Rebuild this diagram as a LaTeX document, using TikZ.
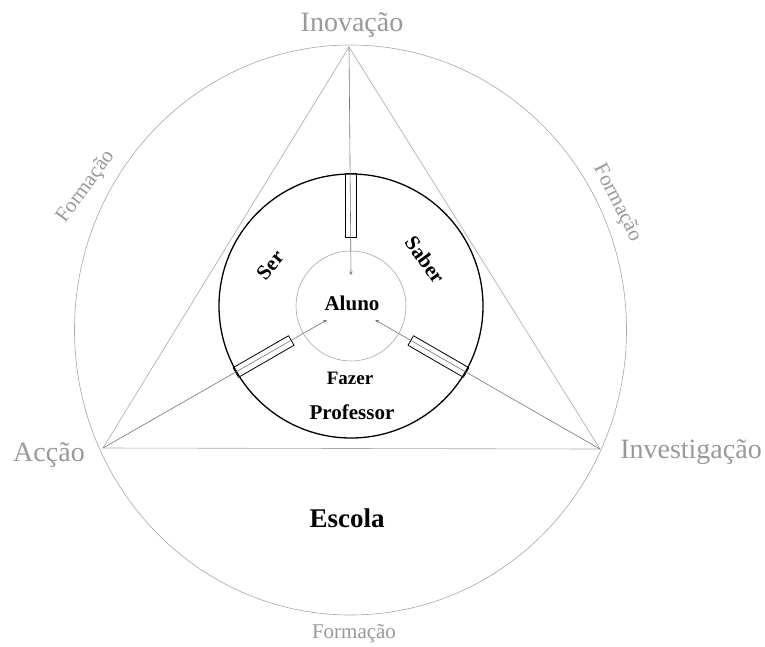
\documentclass[tikz,border=0pt]{standalone}
\usepackage{fontspec}
\setmainfont{Liberation Serif}
\begin{document}
\begin{tikzpicture}[x=1pt, y=1pt, >=stealth, line join=round, line cap=round,
		linha/.style={gray!70, line width=0.6pt},
		raio/.style={gray!90!black, line width=0.6pt},
		ranhura/.style={draw, line width=0.8pt, minimum width=64pt, minimum height=11pt, inner sep=0pt},
		rotulo/.style={text=gray!80, inner sep=0pt, font=\fontsize{28}{31}\selectfont},
		formacao/.style={text=gray!80, inner sep=0pt, font=\fontsize{21}{24}\selectfont},
		texto/.style={inner sep=0pt, font=\fontsize{21}{24}\selectfont\bfseries}]
	\useasboundingbox (0,0) rectangle (765,-646);
	% 1. Círculo exterior (Escola) e triângulo
	\coordinate (O) at (350.5,-330);
	\coordinate (C) at (351,-306);
	\coordinate (Ino) at (349,-47);
	\coordinate (Acc) at (103,-448);
	\coordinate (Inv) at (600,-449);
	\draw[linha] (O) ellipse [x radius=276, y radius=285];
	\draw[linha] (Ino) -- (Acc) -- (Inv) -- cycle;
	
	% 2. Círculos do Professor e do Aluno
	\draw[line width=1.3pt] (C) circle [radius=132];
	\draw[linha] (C) circle [radius=55];
	
	% 3. Ranhuras e setas dos vértices para o Aluno
	\node[ranhura, rotate=90] (rI) at ([shift={(90:101)}]C) {};
	\node[ranhura, rotate=210] (rA) at ([shift={(210:101)}]C) {};
	\node[ranhura, rotate=330] (rN) at ([shift={(330:101)}]C) {};
	\coordinate (tI) at ([shift={(90:31)}]C);
	\coordinate (tA) at ([shift={(210:28)}]C);
	\coordinate (tN) at ([shift={(330:28)}]C);
	\draw[raio, ->] (Ino) -- (tI);
	\draw[raio, ->] (Acc) -- (tA);
	\draw[raio, ->] (Inv) -- (tN);
	
	% 4. Textos exteriores
	\node[rotulo] (inovacao) at (352,-25) {Inovação};
	\node[rotulo] (accao) at (49,-455) {Acção};
	\node[rotulo] (investigacao) at (691,-452) {Investigação};
	\node[formacao] (formB) at (354,-634) {Formação};
	\node[formacao, rotate=54] (formE) at (86,-187) {Formação};
	\node[formacao, rotate=-63] (formD) at (617,-203) {Formação};
	
	% 5. Textos interiores
	\node[texto] (aluno) at (352,-303) {Aluno};
	\node[texto, font=\fontsize{19}{22}\selectfont\bfseries] (fazer) at (350,-378) {Fazer};
	\node[texto] (professor) at (352,-412) {Professor};
	\node[texto, font=\fontsize{21}{24}\selectfont\bfseries, rotate=50] (ser) at (270,-265) {Ser};
	\node[texto, font=\fontsize{21}{24}\selectfont\bfseries, rotate=-54] (saber) at (425,-260) {Saber};
	\node[texto, font=\fontsize{27}{30}\selectfont\bfseries] (escola) at (347,-518) {Escola};
\end{tikzpicture}
\end{document}
